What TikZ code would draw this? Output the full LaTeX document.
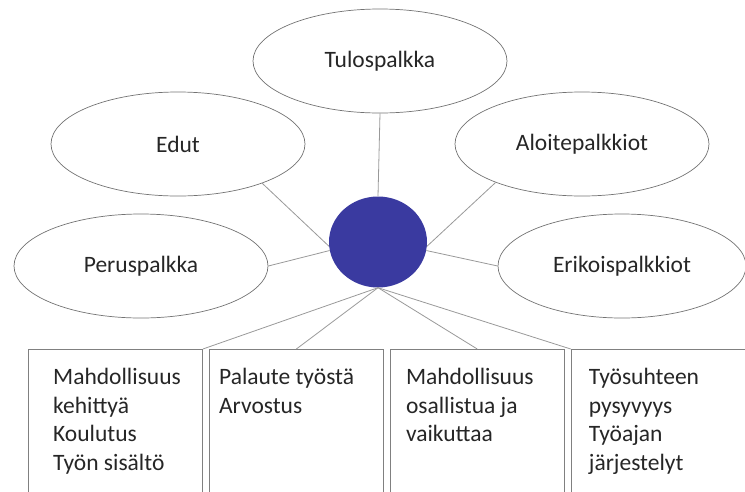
\documentclass[tikz,border=0pt]{standalone}
\usepackage{fontspec}
\setmainfont{Carlito}
\usetikzlibrary{shapes.geometric,positioning}

\definecolor{hubblue}{RGB}{58,58,160}
\tikzset{
  oval/.style={ellipse,draw=black!55,line width=0.7pt,minimum width=254pt,minimum height=104pt,inner sep=0pt,font=\fontsize{23.5}{28.5}\selectfont,text=black!85},
  box/.style={rectangle,draw=black!50,line width=0.9pt,minimum width=174pt,minimum height=160pt,inner sep=0pt},
  boxtext/.style={anchor=north west,align=left,inner sep=0pt,font=\fontsize{23.5}{28.5}\selectfont,text=black!85},
  link/.style={draw=black!40,line width=0.8pt}
}

\begin{document}
\begin{tikzpicture}[x=1pt,y=-1pt]
\useasboundingbox (0,0) rectangle (745,491);
\clip (0,0) rectangle (745,491);

% ovals round the centre
\node[oval] (tulos) at (380,61) {Tulospalkka};
\node[oval] (edut) at (178,144) {Edut};
\node[oval] (aloite) at (582,144) {Aloitepalkkiot};
\node[oval] (perus) at (141,266) {Peruspalkka};
\node[oval,minimum width=248pt] (erikois) at (622,266) {Erikoispalkkiot};
\node[ellipse,fill=hubblue,minimum width=98pt,minimum height=91pt,inner sep=0pt] (hub) at (378,242) {};

% boxes along the bottom
\node[box,anchor=north west] (b1) at (28,349) {};
\node[box,right=6pt of b1] (b2) {};
\node[box,right=6pt of b2] (b3) {};
\node[box,right=6pt of b3] (b4) {};

\node[boxtext] (t1) at ([xshift=25pt,yshift=-19pt]b1.north west) {Mahdollisuus\\kehittyä\\Koulutus\\Työn sisältö};
\node[boxtext] (t2) at ([xshift=10pt,yshift=-19pt]b2.north west) {Palaute työstä\\Arvostus};
\node[boxtext] (t3) at ([xshift=16pt,yshift=-19pt]b3.north west) {Mahdollisuus\\osallistua ja\\vaikuttaa};
\node[boxtext] (t4) at ([xshift=18pt,yshift=-19pt]b4.north west) {Työsuhteen\\pysyvyys\\Työajan\\järjestelyt};

\path[link]
(hub.north) edge (tulos.south)
(hub.185) edge (edut.-25)
(hub.190) edge (perus.east)
(hub.-5) edge (aloite.-156)
(hub.-10) edge (erikois.west)
(hub.south) edge (b1.north east) edge (b2.north) edge (b3.north) edge (b4.north west);
\end{tikzpicture}
\end{document}
